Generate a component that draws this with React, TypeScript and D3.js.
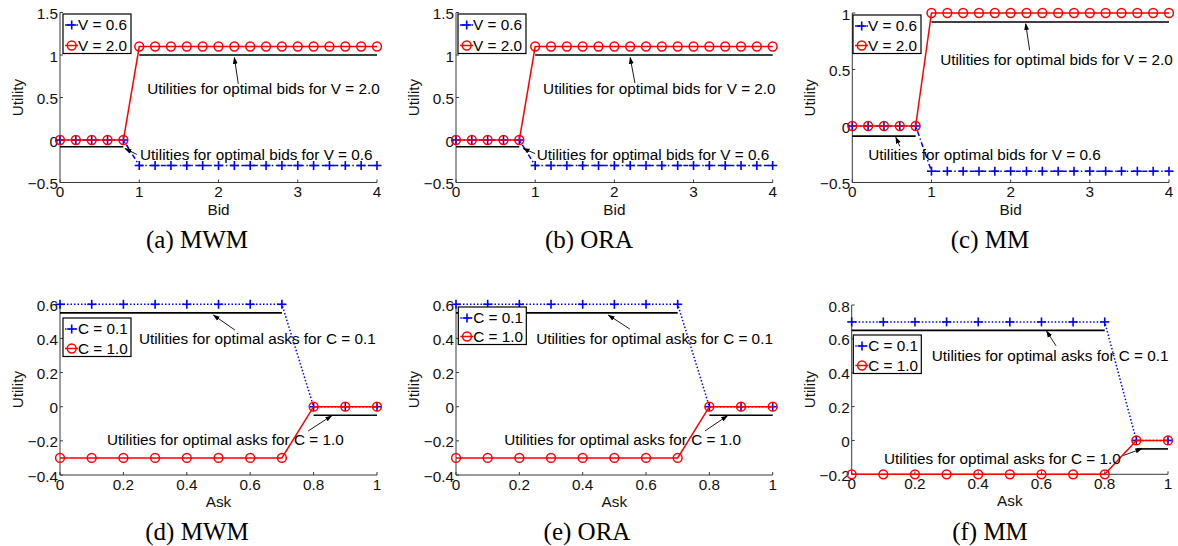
import React from 'react';
import * as d3 from 'd3';

// ---------- data ----------
const bidX = [0, 0.2, 0.4, 0.6, 0.8, 1.0, 1.2, 1.4, 1.6, 1.8, 2.0, 2.2, 2.4, 2.6, 2.8, 3.0, 3.2, 3.4, 3.6, 3.8, 4.0];
const askX = [0, 0.1, 0.2, 0.3, 0.4, 0.5, 0.6, 0.7, 0.8, 0.9, 1.0];

const mwmBidV06 = [0, 0, 0, 0, 0, -0.3, -0.3, -0.3, -0.3, -0.3, -0.3, -0.3, -0.3, -0.3, -0.3, -0.3, -0.3, -0.3, -0.3, -0.3, -0.3];
const mwmBidV20 = [0, 0, 0, 0, 0, 1.1, 1.1, 1.1, 1.1, 1.1, 1.1, 1.1, 1.1, 1.1, 1.1, 1.1, 1.1, 1.1, 1.1, 1.1, 1.1];
const oraBidV06 = [0, 0, 0, 0, 0, -0.3, -0.3, -0.3, -0.3, -0.3, -0.3, -0.3, -0.3, -0.3, -0.3, -0.3, -0.3, -0.3, -0.3, -0.3, -0.3];
const oraBidV20 = [0, 0, 0, 0, 0, 1.1, 1.1, 1.1, 1.1, 1.1, 1.1, 1.1, 1.1, 1.1, 1.1, 1.1, 1.1, 1.1, 1.1, 1.1, 1.1];
const mmBidV06 = [0, 0, 0, 0, 0, -0.4, -0.4, -0.4, -0.4, -0.4, -0.4, -0.4, -0.4, -0.4, -0.4, -0.4, -0.4, -0.4, -0.4, -0.4, -0.4];
const mmBidV20 = [0, 0, 0, 0, 0, 1.0, 1.0, 1.0, 1.0, 1.0, 1.0, 1.0, 1.0, 1.0, 1.0, 1.0, 1.0, 1.0, 1.0, 1.0, 1.0];

const mwmAskC01 = [0.6, 0.6, 0.6, 0.6, 0.6, 0.6, 0.6, 0.6, 0, 0, 0];
const mwmAskC10 = [-0.3, -0.3, -0.3, -0.3, -0.3, -0.3, -0.3, -0.3, 0, 0, 0];
const oraAskC01 = [0.6, 0.6, 0.6, 0.6, 0.6, 0.6, 0.6, 0.6, 0, 0, 0];
const oraAskC10 = [-0.3, -0.3, -0.3, -0.3, -0.3, -0.3, -0.3, -0.3, 0, 0, 0];
const mmAskC01 = [0.7, 0.7, 0.7, 0.7, 0.7, 0.7, 0.7, 0.7, 0.7, 0, 0];
const mmAskC10 = [-0.2, -0.2, -0.2, -0.2, -0.2, -0.2, -0.2, -0.2, -0.2, 0, 0];

// optimal-utility segments: [x0, x1, y]
const mwmBidOptLow = [0, 0.8, -0.08];
const mwmBidOptHigh = [1, 4, 1.0];
const oraBidOptLow = [0, 0.8, -0.08];
const oraBidOptHigh = [1, 4, 1.0];
const mmBidOptLow = [0, 0.8, -0.09];
const mmBidOptHigh = [1, 4, 0.92];
const mwmAskOptC01 = [0, 0.7, 0.55];
const mwmAskOptC10 = [0.8, 1, -0.05];
const oraAskOptC01 = [0, 0.7, 0.55];
const oraAskOptC10 = [0.8, 1, -0.05];
const mmAskOptC01 = [0, 0.8, 0.65];
const mmAskOptC10 = [0.9, 1, -0.05];

const bidTicks = [0, 1, 2, 3, 4];
const askTicks = [0, 0.2, 0.4, 0.6, 0.8, 1];
const utilTicksAB = [-0.5, 0, 0.5, 1, 1.5];
const utilTicksC = [-0.5, 0, 0.5, 1];
const utilTicksDE = [-0.4, -0.2, 0, 0.2, 0.4, 0.6];
const utilTicksF = [-0.2, 0, 0.2, 0.4, 0.6, 0.8];

const bidLegend = ['V = 0.6', 'V = 2.0'];
const askLegend = ['C = 0.1', 'C = 1.0'];
const bidNotes = ['Utilities for optimal bids for V = 2.0', 'Utilities for optimal bids for V = 0.6'];
const askNotes = ['Utilities for optimal asks for C = 0.1', 'Utilities for optimal asks for C = 1.0'];
const captions = ['(a) MWM', '(b) ORA', '(c) MM', '(d) MWM', '(e) ORA', '(f) MM'];

// ---------- layout ----------
type Note = { tx: number; ty: number; ax0: number; ay0: number; ax1: number; ay1: number };
type PanelCfg = {
  L: number; R: number; T: number; B: number;
  xDom: [number, number]; yDom: [number, number];
  xs: number[]; blue: number[]; red: number[];
  optA: number[]; optB: number[];
  xTicks: number[]; yTicks: number[];
  xLabel: string; legend: string[]; notes: string[];
  legBox: [number, number]; legGap: number;
  noteA: Note; noteB: Note;
  blueDash: string; caption: string; capX: number; capY: number;
};

const top1 = { T: 12.5, B: 182.5 };
const panels: PanelCfg[] = [
  {
    L: 60, R: 377, ...top1, xDom: [0, 4], yDom: [-0.5, 1.5], xs: bidX, blue: mwmBidV06, red: mwmBidV20,
    optA: mwmBidOptHigh, optB: mwmBidOptLow, xTicks: bidTicks, yTicks: utilTicksAB, xLabel: 'Bid',
    legend: bidLegend, notes: bidNotes, legBox: [63, 14], legGap: 20.5,
    noteA: { tx: 1.1, ty: 0.54, ax0: 2.25, ay0: 0.66, ax1: 2.2, ay1: 0.97 },
    noteB: { tx: 1.01, ty: -0.23, ax0: 0.97, ay0: -0.17, ax1: 0.82, ay1: -0.1 },
    blueDash: '5,2.5,1.5,2.5', caption: captions[0], capX: 197, capY: 248,
  },
  {
    L: 456, R: 772.7, ...top1, xDom: [0, 4], yDom: [-0.5, 1.5], xs: bidX, blue: oraBidV06, red: oraBidV20,
    optA: oraBidOptHigh, optB: oraBidOptLow, xTicks: bidTicks, yTicks: utilTicksAB, xLabel: 'Bid',
    legend: bidLegend, notes: bidNotes, legBox: [458, 14], legGap: 20.5,
    noteA: { tx: 1.1, ty: 0.54, ax0: 2.26, ay0: 0.67, ax1: 2.2, ay1: 0.97 },
    noteB: { tx: 1.02, ty: -0.23, ax0: 1.0, ay0: -0.16, ax1: 0.85, ay1: -0.1 },
    blueDash: '5,2.5,1.5,2.5', caption: captions[1], capX: 589, capY: 248,
  },
  {
    L: 852.3, R: 1169, T: 13, B: 182.5, xDom: [0, 4], yDom: [-0.5, 1], xs: bidX, blue: mmBidV06, red: mmBidV20,
    optA: mmBidOptHigh, optB: mmBidOptLow, xTicks: bidTicks, yTicks: utilTicksC, xLabel: 'Bid',
    legend: bidLegend, notes: bidNotes, legBox: [853, 15], legGap: 19.5,
    noteA: { tx: 1.11, ty: 0.544, ax0: 2.24, ay0: 0.67, ax1: 2.19, ay1: 0.905 },
    noteB: { tx: 0.2, ty: -0.305, ax0: 0.6, ay0: -0.18, ax1: 0.55, ay1: -0.1 },
    blueDash: '5,2.5,1.5,2.5', caption: captions[2], capX: 990, capY: 248,
  },
  {
    L: 60, R: 377, T: 304.3, B: 475, xDom: [0, 1], yDom: [-0.4, 0.6], xs: askX, blue: mwmAskC01, red: mwmAskC10,
    optA: mwmAskOptC01, optB: mwmAskOptC10, xTicks: askTicks, yTicks: utilTicksDE, xLabel: 'Ask',
    legend: askLegend, notes: askNotes, legBox: [63, 318], legGap: 19.5,
    noteA: { tx: 0.249, ty: 0.365, ax0: 0.552, ay0: 0.449, ax1: 0.484, ay1: 0.537 },
    noteB: { tx: 0.148, ty: -0.227, ax0: 0.783, ay0: -0.142, ax1: 0.857, ay1: -0.053 },
    blueDash: '1.5,2', caption: captions[3], capX: 197, capY: 540,
  },
  {
    L: 456, R: 772.7, T: 304.3, B: 475, xDom: [0, 1], yDom: [-0.4, 0.6], xs: askX, blue: oraAskC01, red: oraAskC10,
    optA: oraAskOptC01, optB: oraAskOptC10, xTicks: askTicks, yTicks: utilTicksDE, xLabel: 'Ask',
    legend: askLegend, notes: askNotes, legBox: [458.3, 307], legGap: 18.5,
    noteA: { tx: 0.253, ty: 0.365, ax0: 0.549, ay0: 0.455, ax1: 0.481, ay1: 0.537 },
    noteB: { tx: 0.152, ty: -0.227, ax0: 0.786, ay0: -0.142, ax1: 0.857, ay1: -0.053 },
    blueDash: '1.5,2', caption: captions[4], capX: 587, capY: 540,
  },
  {
    L: 851.7, R: 1168, T: 305, B: 474.3, xDom: [0, 1], yDom: [-0.2, 0.8], xs: askX, blue: mmAskC01, red: mmAskC10,
    optA: mmAskOptC01, optB: mmAskOptC10, xTicks: askTicks, yTicks: utilTicksF, xLabel: 'Ask',
    legend: askLegend, notes: askNotes, legBox: [853.3, 335], legGap: 19.5,
    noteA: { tx: 0.253, ty: 0.468, ax0: 0.646, ay0: 0.559, ax1: 0.616, ay1: 0.646 },
    noteB: { tx: 0.102, ty: -0.137, ax0: 0.859, ay0: -0.089, ax1: 0.917, ay1: -0.049 },
    blueDash: '1.5,2', caption: captions[5], capX: 990, capY: 540,
  },
];

const SANS = '"Liberation Sans", Arial, Helvetica, sans-serif';
const SERIF = '"Liberation Serif", "Times New Roman", serif';
const BLUE = '#0000ff';
const RED = '#ff0000';
const FS = 15.3;
const fmt = d3.format('');

function Plus({ x, y, s = 4.5 }: { x: number; y: number; s?: number }) {
  return (
    <g stroke={BLUE} strokeWidth={1.6}>
      <line x1={x - s} x2={x + s} y1={y} y2={y} />
      <line x1={x} x2={x} y1={y - s} y2={y + s} />
    </g>
  );
}

function Circ({ x, y }: { x: number; y: number }) {
  return <circle cx={x} cy={y} r={4.4} fill="none" stroke={RED} strokeWidth={1.5} />;
}

function Panel({ p, idx }: { p: PanelCfg; idx: number }) {
  const x = d3.scaleLinear().domain(p.xDom).range([p.L, p.R]);
  const y = d3.scaleLinear().domain(p.yDom).range([p.B, p.T]);
  const line = d3.line<number>().x((_, i) => x(p.xs[i])).y((d) => y(d));
  const axisColor = '#3a3a3a';
  const tk = 3;
  const notes = [p.noteA, p.noteB];
  const [lx, ly] = p.legBox;
  const legW = 68;
  const legH = 11 + p.legGap + 8;
  return (
    <g>
      {/* axes */}
      <line x1={p.L} x2={p.L} y1={p.T} y2={p.B} stroke={axisColor} strokeWidth={1} />
      <line x1={p.L} x2={p.R} y1={p.B} y2={p.B} stroke={axisColor} strokeWidth={1} />
      {p.yTicks.map((t) => (
        <g key={'y' + t}>
          <line x1={p.L} x2={p.L + tk} y1={y(t)} y2={y(t)} stroke={axisColor} />
          <text x={p.L - 2} y={y(t) + 6.5} textAnchor="end" fontFamily={SANS} fontSize={FS} fill="#111">
            {fmt(t)}
          </text>
        </g>
      ))}
      {p.xTicks.map((t) => (
        <g key={'x' + t}>
          <line x1={x(t)} x2={x(t)} y1={p.B} y2={p.B - tk} stroke={axisColor} />
          <text x={x(t)} y={p.B + 14.5} textAnchor="middle" fontFamily={SANS} fontSize={FS} fill="#111">
            {fmt(t)}
          </text>
        </g>
      ))}
      <text x={(p.L + p.R) / 2} y={p.B + 32} textAnchor="middle" fontFamily={SANS} fontSize={FS} fill="#111">
        {p.xLabel}
      </text>
      <text
        transform={`translate(${p.L - 37},${(p.T + p.B) / 2}) rotate(-90)`}
        textAnchor="middle"
        fontFamily={SANS}
        fontSize={FS}
        fill="#111"
      >
        Utility
      </text>

      {/* series */}
      <path d={line(p.blue) || ''} fill="none" stroke={BLUE} strokeWidth={1.5} strokeDasharray={p.blueDash} />
      {p.blue.map((v, i) => (
        <Plus key={'b' + i} x={x(p.xs[i])} y={y(v)} />
      ))}
      <path d={line(p.red) || ''} fill="none" stroke={RED} strokeWidth={1.5} />
      {p.red.map((v, i) => (
        <Circ key={'r' + i} x={x(p.xs[i])} y={y(v)} />
      ))}

      {/* optimal lines */}
      {[p.optA, p.optB].map((o, i) => (
        <line key={'o' + i} x1={x(o[0])} x2={x(o[1])} y1={y(o[2])} y2={y(o[2])} stroke="#000" strokeWidth={1.6} />
      ))}

      {/* annotations */}
      {notes.map((n, i) => (
        <g key={'n' + i}>
          <text x={x(n.tx)} y={y(n.ty)} fontFamily={SANS} fontSize={FS} fill="#000">
            {p.notes[i]}
          </text>
          <line
            x1={x(n.ax0)}
            y1={y(n.ay0)}
            x2={x(n.ax1)}
            y2={y(n.ay1)}
            stroke="#000"
            strokeWidth={0.9}
            markerEnd={`url(#arrow${idx})`}
          />
        </g>
      ))}

      {/* legend */}
      <rect x={lx} y={ly} width={legW} height={legH} fill="#fff" stroke="#000" strokeWidth={1.2} />
      <g>
        <line x1={lx + 2} x2={lx + 15} y1={ly + 11} y2={ly + 11} stroke={BLUE} strokeWidth={1.5} strokeDasharray={p.blueDash} />
        <Plus x={lx + 8.7} y={ly + 11} />
        <text x={lx + 15} y={ly + 11 + 5.4} fontFamily={SANS} fontSize={FS} fill="#000">
          {p.legend[0]}
        </text>
        <line x1={lx + 2} x2={lx + 15} y1={ly + 11 + p.legGap} y2={ly + 11 + p.legGap} stroke={RED} strokeWidth={1.5} />
        <Circ x={lx + 8.7} y={ly + 11 + p.legGap} />
        <text x={lx + 15} y={ly + 11 + p.legGap + 5.4} fontFamily={SANS} fontSize={FS} fill="#000">
          {p.legend[1]}
        </text>
      </g>

      {/* caption */}
      <text x={p.capX} y={p.capY} textAnchor="middle" fontFamily={SERIF} fontSize={25} fill="#000">
        {p.caption}
      </text>
    </g>
  );
}

export default function App() {
  return (
    <svg
      width={1178}
      height={546}
      viewBox="0 0 1178 546"
      style={{ position: 'absolute', left: 0, top: 0, background: '#fff' }}
    >
      <defs>
        {panels.map((_, i) => (
          <marker
            key={i}
            id={`arrow${i}`}
            viewBox="0 0 10 10"
            refX={9}
            refY={5}
            markerWidth={7}
            markerHeight={7}
            markerUnits="userSpaceOnUse"
            orient="auto"
          >
            <path d="M0,1.5 L10,5 L0,8.5 Z" fill="#000" />
          </marker>
        ))}
      </defs>
      <rect width={1178} height={546} fill="#fff" />
      {panels.map((p, i) => (
        <Panel key={i} p={p} idx={i} />
      ))}
    </svg>
  );
}
